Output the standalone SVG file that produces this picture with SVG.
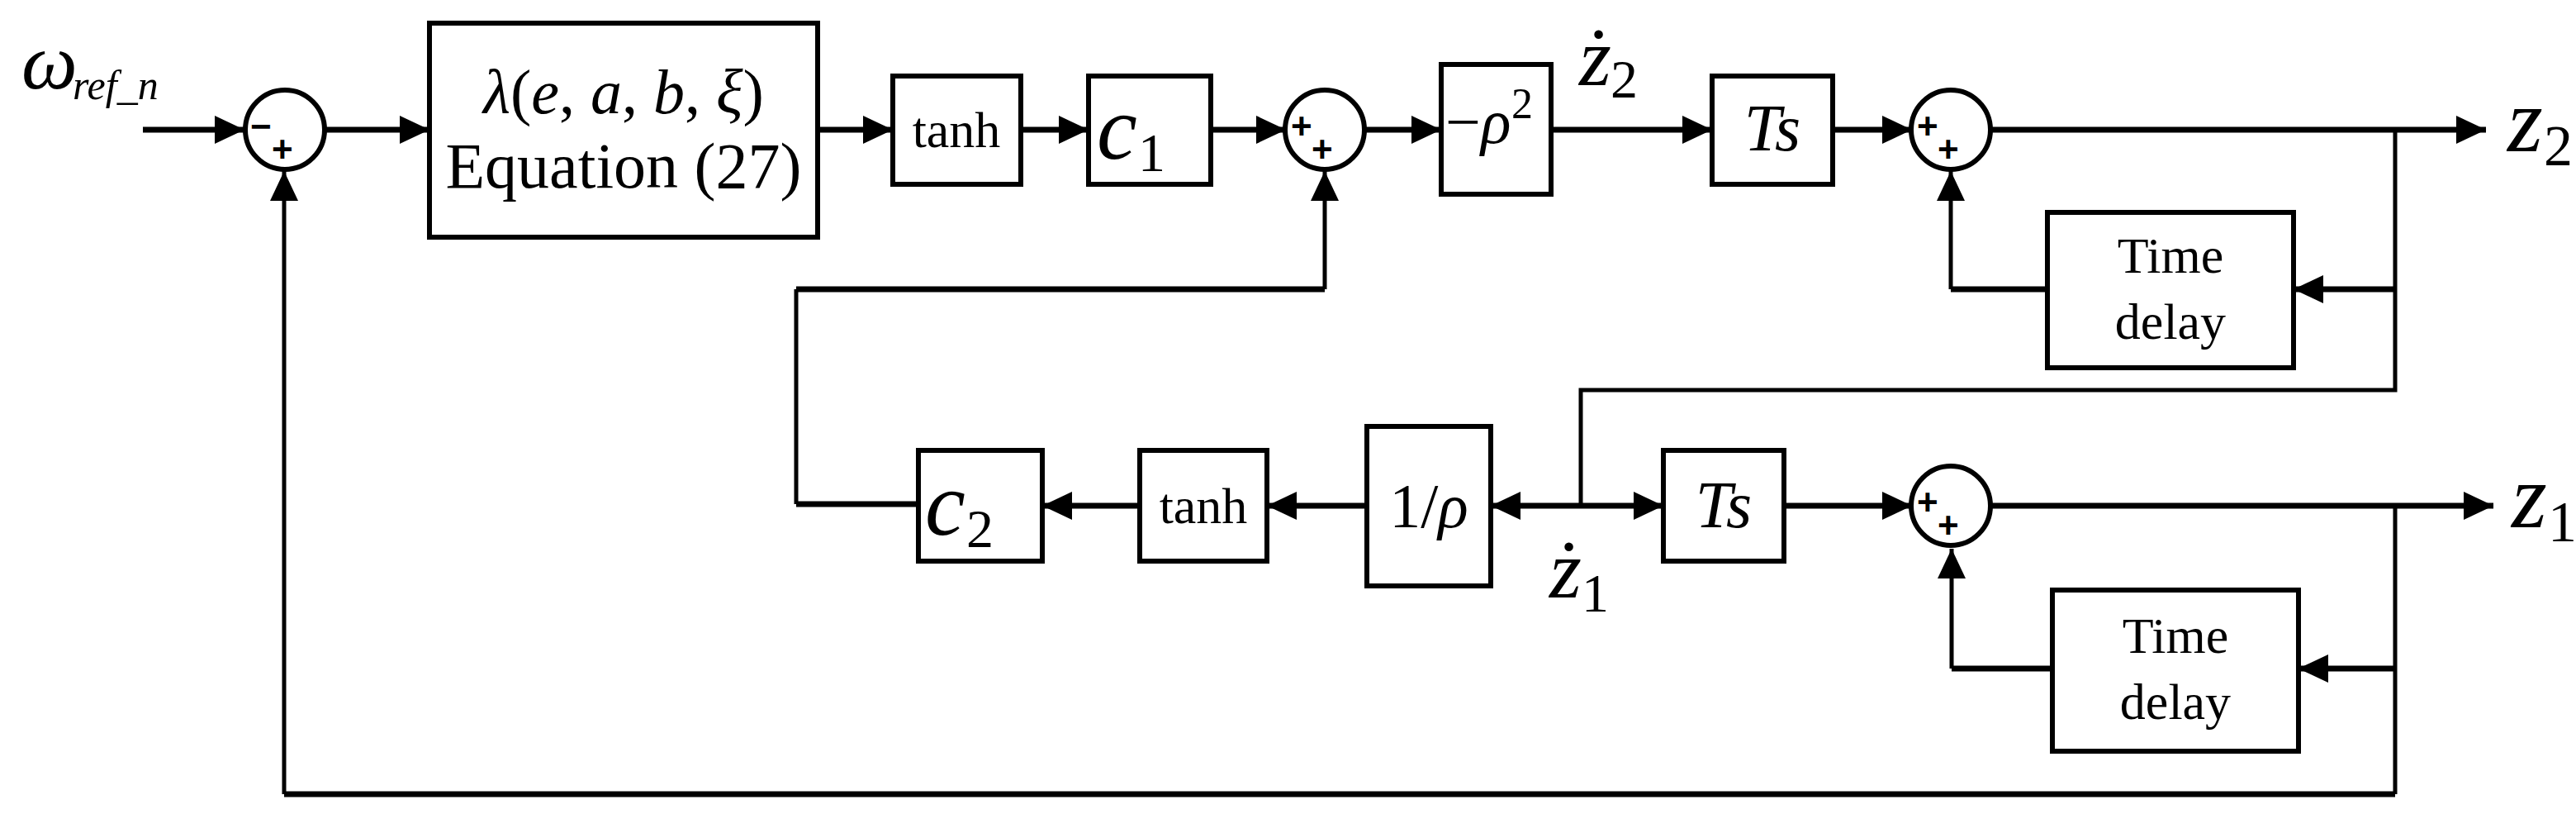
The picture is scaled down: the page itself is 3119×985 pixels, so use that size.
<svg xmlns="http://www.w3.org/2000/svg" width="3119" height="985" viewBox="0 0 3119 985" font-family="'Liberation Serif', 'Times New Roman', serif">
<style>
.b{fill:#fff;stroke:#000;stroke-width:6}
.s{fill:#fff;stroke:#000;stroke-width:6}
.w{fill:none;stroke:#000;stroke-width:7}
.f{fill:none;stroke:#000;stroke-width:5}
.i{font-style:italic}
.sg{font-family:'Liberation Sans', Arial, sans-serif;font-weight:bold;font-size:44px}
</style>
<defs>
<marker id="a" markerUnits="userSpaceOnUse" markerWidth="40" markerHeight="40" refX="36" refY="17" orient="auto">
<path d="M0,0 L36,17 L0,34 z" fill="#000"/>
</marker>
</defs>
<g id="connectors">
<path class="w" d="M173,157 H296" marker-end="url(#a)"/>
<path class="w" d="M393,157 H520" marker-end="url(#a)"/>
<path class="w" d="M990,157 H1081" marker-end="url(#a)"/>
<path class="w" d="M1236,157 H1318" marker-end="url(#a)"/>
<path class="w" d="M1466,157 H1557" marker-end="url(#a)"/>
<path class="w" d="M1651,157 H1745" marker-end="url(#a)"/>
<path class="w" d="M1878,157 H2073" marker-end="url(#a)"/>
<path class="w" d="M2219,157 H2315" marker-end="url(#a)"/>
<path class="w" d="M2409,157 H3010" marker-end="url(#a)"/>
<path class="f" d="M2900,157 V472 H1914 V612"/>
<path class="w" d="M2900,350 H2777" marker-end="url(#a)"/>
<path class="w" d="M2479,350 H2362"/>
<path class="f" d="M2362,350 V207" marker-end="url(#a)"/>
<path class="f" d="M964,350 V610"/>
<path class="w" d="M964,350 H1604"/>
<path class="f" d="M1604,350 V207" marker-end="url(#a)"/>
<path class="w" d="M1112,610 H964"/>
<path class="w" d="M1380,612 H1262" marker-end="url(#a)"/>
<path class="w" d="M1655,612 H1534" marker-end="url(#a)"/>
<path class="w" d="M1914,612 H1805" marker-end="url(#a)"/>
<path class="w" d="M1914,612 H2014" marker-end="url(#a)"/>
<path class="w" d="M2160,612 H2315" marker-end="url(#a)"/>
<path class="w" d="M2411,612 H3019" marker-end="url(#a)"/>
<path class="f" d="M2900,612 V961"/>
<path class="w" d="M2900,809 H2783" marker-end="url(#a)"/>
<path class="w" d="M2485,809 H2363"/>
<path class="f" d="M2363,809 V664" marker-end="url(#a)"/>
<path class="w" d="M2900,961 H344"/>
<path class="f" d="M344,961 V207" marker-end="url(#a)"/>
</g>
<g id="input"><text x="26" y="107" class="i" font-size="96">ω</text><text x="88" y="120" class="i" font-size="50">ref_n</text></g>
<g id="sum1"><circle class="s" cx="345" cy="157" r="48"/><text class="sg" x="303" y="168">−</text><text class="sg" x="329" y="196">+</text></g>
<g id="lambda"><rect class="b" x="520" y="28" width="470" height="259"/><text x="755" y="137" text-anchor="middle" font-size="76"><tspan class="i">λ</tspan>(<tspan class="i">e</tspan>, <tspan class="i">a</tspan>, <tspan class="i">b</tspan>, <tspan class="i">ξ</tspan>)</text><text x="755" y="227" text-anchor="middle" font-size="78">Equation (27)</text></g>
<g id="tanh1"><rect class="b" x="1081" y="92" width="155" height="131"/><text x="1158" y="178" text-anchor="middle" font-size="62">tanh</text></g>
<g id="c1"><rect class="b" x="1318" y="92" width="148" height="131"/><text x="1328" y="192" class="i" font-size="110">c</text><text x="1378" y="207" font-size="66">1</text></g>
<g id="sum2"><circle class="s" cx="1604" cy="157" r="48"/><text class="sg" x="1563" y="168">+</text><text class="sg" x="1588" y="196">+</text></g>
<g id="rho2"><rect class="b" x="1745" y="78" width="133" height="157"/><text x="1750" y="173" font-size="76">−<tspan class="i">ρ</tspan></text><text x="1830" y="143" font-size="52">2</text></g>
<g id="z2dot"><text x="1912" y="102" class="i" font-size="100">ż</text><text x="1950" y="118" font-size="66">2</text></g>
<g id="ts1"><rect class="b" x="2073" y="92" width="146" height="131"/><text x="2146" y="182" text-anchor="middle" class="i" font-size="80">Ts</text></g>
<g id="sum3"><circle class="s" cx="2362" cy="157" r="48"/><text class="sg" x="2321" y="168">+</text><text class="sg" x="2346" y="196">+</text></g>
<g id="z2"><text x="3036" y="183" class="i" font-size="110">z</text><text x="3080" y="200" font-size="70">2</text></g>
<g id="delay1"><rect class="b" x="2479" y="257" width="298" height="188"/><text x="2628" y="330" text-anchor="middle" font-size="62">Time</text><text x="2628" y="410" text-anchor="middle" font-size="62">delay</text></g>
<g id="c2"><rect class="b" x="1112" y="545" width="150" height="134"/><text x="1120" y="647" class="i" font-size="110">c</text><text x="1170" y="662" font-size="66">2</text></g>
<g id="tanh2"><rect class="b" x="1380" y="545" width="154" height="134"/><text x="1457" y="633" text-anchor="middle" font-size="62">tanh</text></g>
<g id="invrho"><rect class="b" x="1655" y="516" width="150" height="193"/><text x="1730" y="638" text-anchor="middle" font-size="76">1/<tspan class="i">ρ</tspan></text></g>
<g id="z1dot"><text x="1876" y="722" class="i" font-size="100">ż</text><text x="1915" y="740" font-size="66">1</text></g>
<g id="ts2"><rect class="b" x="2014" y="545" width="146" height="134"/><text x="2087" y="638" text-anchor="middle" class="i" font-size="80">Ts</text></g>
<g id="sum4"><circle class="s" cx="2362" cy="612" r="48"/><text class="sg" x="2321" y="623">+</text><text class="sg" x="2346" y="651">+</text></g>
<g id="z1"><text x="3041" y="638" class="i" font-size="110">z</text><text x="3085" y="655" font-size="70">1</text></g>
<g id="delay2"><rect class="b" x="2485" y="714" width="298" height="195"/><text x="2634" y="790" text-anchor="middle" font-size="62">Time</text><text x="2634" y="870" text-anchor="middle" font-size="62">delay</text></g>
</svg>
